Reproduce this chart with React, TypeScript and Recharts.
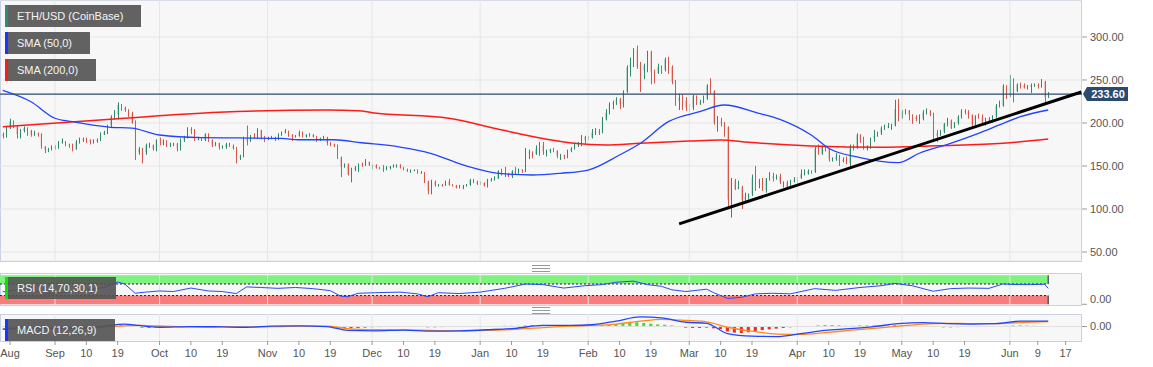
import {
  ComposedChart,
  Bar,
  Line,
  XAxis,
  YAxis,
  CartesianGrid,
  ReferenceLine,
  ReferenceArea,
  Cell,
} from "recharts";

// day index 0 = 16 Aug 2019, candles run 17 Aug 2019 .. 12 Jun 2020
const firstOpen = 187;
const closes = [
  // Aug
  185, 194, 202, 196, 187, 191, 194, 191, 186, 188, 187, 173, 169, 169, 172,
  // Sep
  172, 178, 178, 175, 174, 169, 178, 181, 181, 180, 178, 180, 180, 187, 189, 197, 207, 210, 221, 218, 215, 211, 200, 166, 170, 166, 174, 174, 170, 180,
  // Oct
  175, 180, 175, 176, 176, 170, 180, 183, 193, 191, 181, 181, 180, 187, 180, 174, 177, 172, 172, 175, 173, 171, 160, 161, 181, 179, 184, 183, 192, 183, 182,
  // Nov
  182, 183, 181, 186, 188, 191, 186, 184, 185, 189, 184, 186, 186, 184, 180, 182, 183, 177, 175, 174, 160, 149, 152, 140, 146, 148, 152, 151, 155, 151,
  // Dec
  151, 148, 147, 146, 148, 149, 150, 151, 148, 146, 144, 144, 145, 142, 142, 132, 121, 132, 128, 128, 127, 132, 128, 127, 125, 125, 126, 128, 134, 131, 129,
  // Jan
  130, 127, 134, 134, 135, 144, 142, 141, 138, 144, 142, 146, 144, 165, 166, 164, 170, 174, 167, 167, 169, 168, 162, 162, 161, 168, 170, 175, 175, 184, 180,
  // Feb
  183, 189, 190, 189, 204, 212, 222, 223, 228, 222, 236, 265, 268, 285, 265, 261, 267, 283, 259, 258, 265, 262, 274, 265, 248, 226, 229, 226, 218,
  // Mar
  218, 231, 224, 224, 228, 244, 237, 200, 201, 200, 195, 111, 133, 123, 125, 110, 114, 117, 136, 132, 132, 122, 135, 138, 136, 138, 131, 131, 125, 132, 133,
  // Apr
  136, 141, 141, 144, 143, 170, 164, 173, 170, 158, 158, 161, 156, 157, 153, 172, 171, 186, 180, 171, 171, 182, 185, 188, 194, 196, 196, 197, 216, 206,
  // May
  213, 215, 210, 207, 205, 205, 212, 212, 211, 188, 185, 190, 199, 203, 194, 200, 207, 214, 213, 209, 198, 208, 207, 200, 205, 201, 208, 220, 220, 243, 231,
  // Jun
  248, 237, 245, 244, 241, 242, 244, 244, 243, 248, 230, 233.6,
];
const highs = [
  189, 196, 205, 203, 197, 193, 196, 195, 192, 191, 189, 188, 173, 171, 174,
  174, 179, 182, 179, 176, 176, 180, 183, 183, 183, 181, 181, 182, 189, 191, 198, 209, 215, 224, 222, 219, 216, 213, 203, 172, 171, 176, 177, 175, 181,
  183, 181, 180, 177, 177, 177, 182, 185, 195, 195, 193, 184, 183, 188, 188, 181, 178, 177, 174, 177, 177, 175, 172, 163, 184, 197, 186, 188, 194, 192, 185,
  184, 185, 184, 188, 190, 193, 191, 187, 186, 191, 190, 187, 188, 187, 185, 183, 185, 184, 178, 176, 175, 161, 153, 153, 148, 150, 153, 154, 158, 155,
  152, 152, 149, 151, 150, 150, 152, 152, 152, 149, 147, 146, 146, 146, 144, 143, 133, 134, 133, 129, 129, 133, 135, 129, 128, 128, 128, 129, 135, 135, 133,
  132, 131, 135, 136, 138, 145, 147, 149, 142, 145, 149, 147, 146, 171, 169, 167, 174, 178, 178, 169, 170, 171, 168, 164, 163, 169, 172, 177, 178, 186, 185,
  185, 193, 194, 193, 207, 216, 224, 226, 230, 229, 238, 267, 276, 287, 290, 271, 269, 284, 284, 262, 269, 267, 276, 277, 267, 250, 234, 233, 230,
  222, 233, 232, 227, 232, 245, 252, 238, 208, 206, 201, 196, 136, 135, 133, 127, 119, 118, 140, 150, 135, 136, 136, 143, 142, 140, 141, 132, 133, 134, 137,
  137, 146, 146, 146, 145, 172, 175, 174, 174, 171, 160, 165, 163, 160, 161, 175, 175, 188, 187, 184, 174, 183, 192, 190, 196, 198, 200, 199, 227, 228,
  215, 216, 215, 210, 209, 210, 215, 217, 215, 212, 192, 192, 200, 206, 204, 201, 209, 216, 216, 215, 210, 209, 211, 210, 206, 207, 209, 222, 226, 245, 244,
  256, 252, 246, 247, 246, 244, 246, 246, 246, 251, 249, 236,
];
const lows = [
  182, 183, 193, 194, 182, 182, 189, 185, 184, 185, 184, 170, 165, 166, 168,
  169, 170, 176, 173, 171, 167, 169, 176, 178, 177, 175, 176, 177, 179, 186, 187, 195, 204, 204, 214, 213, 207, 199, 157, 163, 153, 163, 171, 168, 167,
  174, 174, 172, 172, 173, 167, 168, 178, 182, 187, 179, 180, 179, 179, 178, 172, 173, 169, 170, 170, 172, 169, 153, 157, 160, 174, 178, 182, 182, 181, 178,
  180, 181, 179, 180, 185, 188, 184, 179, 183, 184, 183, 183, 184, 183, 178, 179, 181, 174, 173, 172, 158, 137, 148, 139, 131, 144, 143, 149, 150, 150,
  146, 147, 146, 143, 145, 146, 148, 148, 147, 145, 143, 142, 144, 141, 141, 130, 117, 117, 126, 126, 126, 127, 127, 126, 124, 124, 123, 126, 127, 130, 128,
  128, 126, 125, 132, 133, 135, 139, 137, 137, 136, 140, 141, 142, 143, 158, 159, 163, 162, 163, 161, 165, 166, 159, 157, 158, 159, 166, 169, 172, 173, 176,
  180, 182, 186, 186, 188, 203, 210, 216, 221, 216, 218, 235, 254, 265, 263, 236, 251, 259, 245, 246, 257, 257, 260, 257, 245, 220, 215, 215, 214,
  213, 215, 221, 221, 223, 227, 234, 198, 190, 196, 184, 103, 90, 122, 123, 100, 108, 111, 115, 121, 124, 121, 119, 133, 132, 134, 129, 125, 123, 124, 131,
  129, 135, 139, 140, 141, 142, 163, 163, 167, 155, 155, 156, 150, 154, 152, 148, 168, 170, 177, 169, 168, 170, 178, 184, 186, 192, 194, 192, 196, 202,
  205, 210, 203, 199, 202, 199, 203, 210, 208, 178, 178, 185, 188, 196, 193, 194, 198, 205, 210, 205, 195, 197, 205, 199, 197, 200, 200, 206, 218, 219, 228,
  230, 224, 236, 240, 240, 239, 235, 242, 240, 241, 224, 229,
];

const tickDays = [3.1, 16, 25, 34, 46, 55, 64, 77, 86, 95, 107, 116, 125, 138, 147, 156, 169, 178, 187, 198, 207, 216, 229, 238, 247, 259, 268, 277, 290, 298, 306];
const tickLabels = ["Aug", "Sep", "10", "19", "Oct", "10", "19", "Nov", "10", "19", "Dec", "10", "19", "Jan", "10", "19", "Feb", "10", "19", "Mar", "10", "19", "Apr", "10", "19", "May", "10", "19", "Jun", "9", "17"];
const monthNames = ["Sep", "Oct", "Nov", "Dec", "Jan", "Feb", "Mar", "Apr", "May", "Jun"];
const priceTicks = [50, 100, 150, 200, 250, 300];

const sma50Days = [1, 9, 16, 21, 32, 38, 46, 58, 69, 81, 86, 96, 104, 115, 124, 134, 144, 153, 161, 169, 178, 184, 192, 201, 208, 218, 224, 233, 238, 247, 258, 264, 273, 281, 287, 293, 301];
const sma50Values = [238, 225, 205.5, 201.5, 195, 194, 186, 183, 182.6, 182, 180.5, 180.5, 177, 172, 164.5, 150, 141, 139.5, 141.5, 145.3, 162.8, 176.4, 201.5, 213.1, 220.9, 211.3, 204.3, 186, 170.6, 159.7, 153.8, 164.8, 176.4, 188, 197.7, 207.3, 215.1];
const sma200Days = [1, 32, 63, 94, 103, 107, 129, 144, 158, 165, 174, 184, 198, 207, 215, 233, 253, 269, 288, 301];
const sma200Values = [195.7, 204.3, 212.4, 215.1, 214.3, 212, 205.5, 192, 180.5, 176.4, 174.4, 176.4, 179, 180.2, 177.5, 173.3, 171.7, 173.6, 176.4, 181.4];
const trendDays = [195.1, 310.5];
const trendValues = [82.6, 236];

const rsiDays = [1, 5, 10, 13, 20, 25, 30, 34, 36, 39, 42, 46, 50, 55, 60, 64, 68, 71, 75, 80, 85, 90, 95, 98, 100, 103, 108, 115, 120, 123, 126, 132, 138, 145, 151, 156, 162, 168, 173, 177, 182, 186, 190, 193, 197, 203, 205, 209, 213, 217, 222, 227, 234, 240, 247, 253, 257, 262, 268, 273, 278, 284, 288, 292, 296, 300, 301];
const rsiValues = [43, 50, 48, 36, 42, 48, 58, 77, 70, 38, 42, 46, 44, 56, 46, 44, 37, 60, 58, 55, 58, 54, 47, 28, 26, 38, 40, 42, 36, 26, 40, 37, 42, 55, 70, 68, 56, 64, 68, 76, 80, 68, 62, 50, 44, 52, 40, 20, 24, 36, 38, 36, 54, 48, 58, 64, 72, 64, 45, 54, 56, 55, 70, 68, 68, 69, 55];

const macdDays = [1, 8, 15, 22, 29, 36, 40, 46, 55, 64, 71, 78, 86, 94, 100, 108, 116, 124, 132, 140, 148, 156, 164, 170, 177, 184, 190, 197, 203, 209, 216, 223, 230, 237, 244, 251, 258, 265, 272, 279, 286, 293, 301];
const macdValues = [-7, -4, -5, -4, 0, 7, 3, -2, 0, -1, -2, 1, 2, 0, -11, -12, -10, -13, -12, -9, -5, 3, 3, 5, 15, 27, 24, 12, 9, -20, -27, -28, -20, -11, -6, 0, 8, 11, 8, 7, 8, 15, 15];
const signalValues = [-8, -6.5, -5, -4.5, -2.5, 2, 3, 1.5, -1, -0.5, -1.5, -0.5, 1, 1, -6, -9, -9.5, -11, -12, -11, -8, -3, 1, 3, 7, 15, 20, 17, 13, -2, -13, -21, -22, -17, -11, -5, 1, 7, 9, 8, 8, 11, 14];
// histogram, every second day starting at day 1
const histValues = [
  1, 1.5, 2, 1.5, 1, 0.5, -1, -1.5, -1, 0, 0.5, 1, 1, 1, 1.5, 2.5, 3.5, 4,
  3, -1, -3, -3.5, -3, -2.5, -2, -1, 0, 1,
  1, 0.5, -0.5, -1, -1, -1.5, -2, 0, 1, 1.5,
  1.5, 1.5, 1.5, 1.5, 1, 1, 0.5, 0, -0.5, -1,
  -2, -4, -5, -4, -3, -2, -1.5, -1, -0.5, -0.5, -0.5, -0.5, -0.5,
  -2, -2, -1.5, -1, -0.5, 0, 0.5, 0.5, 0.5, 1, 1.5, 2, 2, 2,
  3, 4, 4.5, 4, 3, 2, 1, 1, 1.5, 2, 2.5, 4, 6,
  7, 8, 11, 12, 10, 8, 6, 5, 3, -1, -3,
  -4, -4, -3, -5, -7, -14, -17, -18, -16, -13, -10, -8, -6, -4, -2, -1, 0,
  1, 3, 4, 4, 3, 2, 2, 3, 3, 3, 3, 3, 4, 4,
  3, 2, 1, 0.5, -1, -2, -2, -1.5, -1, -0.5, -0.5, -0.5, 0, 1, 2,
  3, 3, 2.5, 2, 1.5, -1,
];

const X_DOMAIN: [number, number] = [0.22, 310.7];
const AXIS_W = 71;
const GREEN = "#2e8b6b";
const RED = "#d6574a";
const GRID = "#e6e6e6";
const FRAME = "#c9d0e3";
const NAVY = "#2b4a6f";

const candles = closes.map((c, i) => ({
  d: i + 1,
  o: i === 0 ? firstOpen : closes[i - 1],
  c,
  h: highs[i],
  l: lows[i],
  range: [lows[i], highs[i]],
}));
const lastDay = candles.length;
const lastClose = closes[closes.length - 1];
const pairs = (xs: number[], vs: number[]) => xs.map((d, i) => ({ d, v: vs[i] }));
const sma50Rows = pairs(sma50Days, sma50Values);
const sma200Rows = pairs(sma200Days, sma200Values);
const trendRows = pairs(trendDays, trendValues);
const rsiRows = pairs(rsiDays, rsiValues);
const macdRows = pairs(macdDays, macdValues);
const signalRows = pairs(macdDays, signalValues);
const histRows = histValues.map((h, i) => ({ d: 1 + 2 * i, h }));
const monthDays = tickDays.filter((_, i) => monthNames.includes(tickLabels[i]));

function Candle(props: any) {
  const { x, y, width, height, payload } = props;
  if (!payload || height == null || isNaN(y)) return null;
  const { o, c, h, l } = payload;
  const k = height / (h - l || 1);
  const yO = y + (h - o) * k;
  const yC = y + (h - c) * k;
  const color = c >= o ? GREEN : RED;
  const cx = Math.round(x + width / 2) + 0.5;
  return (
    <g>
      <line x1={cx} x2={cx} y1={y} y2={y + height} stroke={color} strokeWidth={1} />
      <rect x={x} y={Math.min(yO, yC)} width={width} height={Math.max(1, Math.abs(yC - yO))} fill={color} />
    </g>
  );
}

function PriceTag(props: any) {
  const { x, y, width } = props.viewBox;
  const lx = x + width;
  return (
    <g>
      <path d={`M${lx + 1},${y} L${lx + 5},${y - 7} H${lx + 46} V${y + 7} H${lx + 5} Z`} fill={NAVY} />
      <text x={lx + 26} y={y + 4} textAnchor="middle" fill="#fff" fontSize={11} fontWeight="bold">
        {lastClose.toFixed(2)}
      </text>
    </g>
  );
}

const axisTick = { fill: "#555", fontSize: 11 };

function Tag({ top, width, color, text }: { top: number; width: number; color: string; text: string }) {
  return (
    <div
      style={{
        position: "absolute",
        left: 5,
        top,
        width,
        height: 22,
        background: "rgba(85,85,85,0.92)",
        borderLeft: `3px solid ${color}`,
        boxSizing: "border-box",
        color: "#f4f4f4",
        fontSize: 11,
        lineHeight: "22px",
        paddingLeft: 9,
        whiteSpace: "nowrap",
      }}
    >
      {text}
    </div>
  );
}

function Grip({ top }: { top: number }) {
  return (
    <div style={{ position: "absolute", left: 532, top, width: 18, height: 5, borderTop: "1px solid #999", borderBottom: "1px solid #999" }}>
      <div style={{ marginTop: 2, borderTop: "1px solid #999" }} />
    </div>
  );
}

const frame = (top: number, height: number) => ({
  position: "absolute" as const,
  left: 0,
  top,
  width: 1082,
  height,
  background: "#f7f7f7",
  border: `1px solid ${FRAME}`,
  boxSizing: "border-box" as const,
});

export default function App() {
  return (
    <div style={{ position: "relative", width: 1153, height: 367, background: "#fff", fontFamily: "Arial, 'Liberation Sans', sans-serif", overflow: "hidden" }}>
      <style>{"body{margin:0}"}</style>
      <div style={frame(0, 262)} />
      <div style={frame(273, 33)} />
      <div style={frame(314, 28)} />
      <Grip top={265} />
      <Grip top={307} />

      {/* price panel */}
      <div style={{ position: "absolute", left: 0, top: 0 }}>
        <ComposedChart width={1153} height={261} data={candles} margin={{ top: 0, right: 0, bottom: 0, left: 0 }}>
          <CartesianGrid vertical={false} stroke={GRID} />
          {monthDays.map((m) => (
            <ReferenceLine key={m} x={m} stroke={GRID} />
          ))}
          <XAxis dataKey="d" type="number" domain={X_DOMAIN} allowDataOverflow hide />
          <YAxis
            orientation="right"
            domain={[39.5, 343]}
            allowDataOverflow
            ticks={priceTicks}
            tickFormatter={(v: number) => v.toFixed(2)}
            width={AXIS_W}
            axisLine={false}
            tickSize={5}
            tickMargin={3}
            tickLine={{ stroke: "#999" }}
            tick={axisTick}
          />
          <Line data={sma200Rows} dataKey="v" type="monotone" stroke="#ff1a1a" strokeWidth={1.5} dot={false} activeDot={false} isAnimationActive={false} />
          <Line data={sma50Rows} dataKey="v" type="monotone" stroke="#2244ff" strokeWidth={1.3} dot={false} activeDot={false} isAnimationActive={false} />
          <ReferenceLine y={lastClose} stroke={NAVY} strokeWidth={1.2} label={<PriceTag />} />
          <Bar dataKey="range" barSize={3} shape={<Candle />} isAnimationActive={false} />
          <Line data={trendRows} dataKey="v" type="linear" stroke="#000" strokeWidth={3} dot={false} activeDot={false} isAnimationActive={false} />
        </ComposedChart>
      </div>

      {/* RSI panel */}
      <div style={{ position: "absolute", left: 0, top: 273 }}>
        <ComposedChart width={1153} height={32} data={rsiRows} margin={{ top: 0, right: 0, bottom: 0, left: 0 }}>
          {monthDays.map((m) => (
            <ReferenceLine key={m} x={m} stroke={GRID} />
          ))}
          <XAxis dataKey="d" type="number" domain={X_DOMAIN} allowDataOverflow hide />
          <YAxis
            orientation="right"
            domain={[-2.5, 108]}
            allowDataOverflow
            ticks={[0]}
            tickFormatter={(v: number) => v.toFixed(2)}
            width={AXIS_W}
            axisLine={false}
            tickSize={5}
            tickMargin={3}
            tickLine={{ stroke: "#999" }}
            tick={axisTick}
          />
          <ReferenceArea x1={X_DOMAIN[0]} x2={lastDay} y1={70} y2={100} fill="#7ef47e" fillOpacity={1} stroke="none" />
          <ReferenceArea x1={X_DOMAIN[0]} x2={lastDay} y1={0} y2={30} fill="#fa7d7d" fillOpacity={1} stroke="none" />
          <ReferenceLine segment={[{ x: X_DOMAIN[0], y: 70 }, { x: lastDay, y: 70 }]} stroke="#222" strokeDasharray="2 2" />
          <ReferenceLine segment={[{ x: X_DOMAIN[0], y: 30 }, { x: lastDay, y: 30 }]} stroke="#222" strokeDasharray="2 2" />
          <ReferenceLine segment={[{ x: lastDay, y: 70 }, { x: lastDay, y: 100 }]} stroke="#222" />
          <ReferenceLine segment={[{ x: lastDay, y: 0 }, { x: lastDay, y: 30 }]} stroke="#222" />
          <Line dataKey="v" type="linear" stroke="#2a4cf0" strokeWidth={1} dot={false} activeDot={false} isAnimationActive={false} />
        </ComposedChart>
      </div>

      {/* MACD panel */}
      <div style={{ position: "absolute", left: 0, top: 314 }}>
        <ComposedChart width={1153} height={53} data={histRows} margin={{ top: 0, right: 0, bottom: 0, left: 0 }}>
          {monthDays.map((m) => (
            <ReferenceLine key={m} x={m} stroke={GRID} />
          ))}
          <ReferenceLine y={0} stroke="#e0e0e0" />
          <XAxis
            dataKey="d"
            type="number"
            domain={X_DOMAIN}
            allowDataOverflow
            ticks={tickDays}
            interval={0}
            tickFormatter={(v: number) => tickLabels[tickDays.indexOf(v)]}
            height={26}
            axisLine={false}
            tickSize={4}
            tickMargin={4}
            tickLine={{ stroke: "#999" }}
            tick={axisTick}
          />
          <YAxis
            orientation="right"
            domain={[-40.4, 35]}
            allowDataOverflow
            ticks={[0]}
            tickFormatter={(v: number) => v.toFixed(2)}
            width={AXIS_W}
            axisLine={false}
            tickSize={5}
            tickMargin={3}
            tickLine={{ stroke: "#999" }}
            tick={axisTick}
          />
          <Bar dataKey="h" barSize={6} isAnimationActive={false}>
            {histRows.map((r) => (
              <Cell key={r.d} fill={r.h >= 0 ? "#3ee03e" : "#ee2b2b"} />
            ))}
          </Bar>
          <Line data={signalRows} dataKey="v" type="monotone" stroke="#ff8a1c" strokeWidth={1.3} dot={false} activeDot={false} isAnimationActive={false} />
          <Line data={macdRows} dataKey="v" type="monotone" stroke="#2244ff" strokeWidth={1.3} dot={false} activeDot={false} isAnimationActive={false} />
        </ComposedChart>
      </div>

      <Tag top={5} width={136} color={GREEN} text="ETH/USD (CoinBase)" />
      <Tag top={32} width={85} color="#1a35ff" text="SMA (50,0)" />
      <Tag top={59} width={91} color="#ff1a1a" text="SMA (200,0)" />
      <Tag top={277} width={111} color="#11dd11" text="RSI (14,70,30,1)" />
      <Tag top={319} width={110} color="#1a35ff" text="MACD (12,26,9)" />
    </div>
  );
}
